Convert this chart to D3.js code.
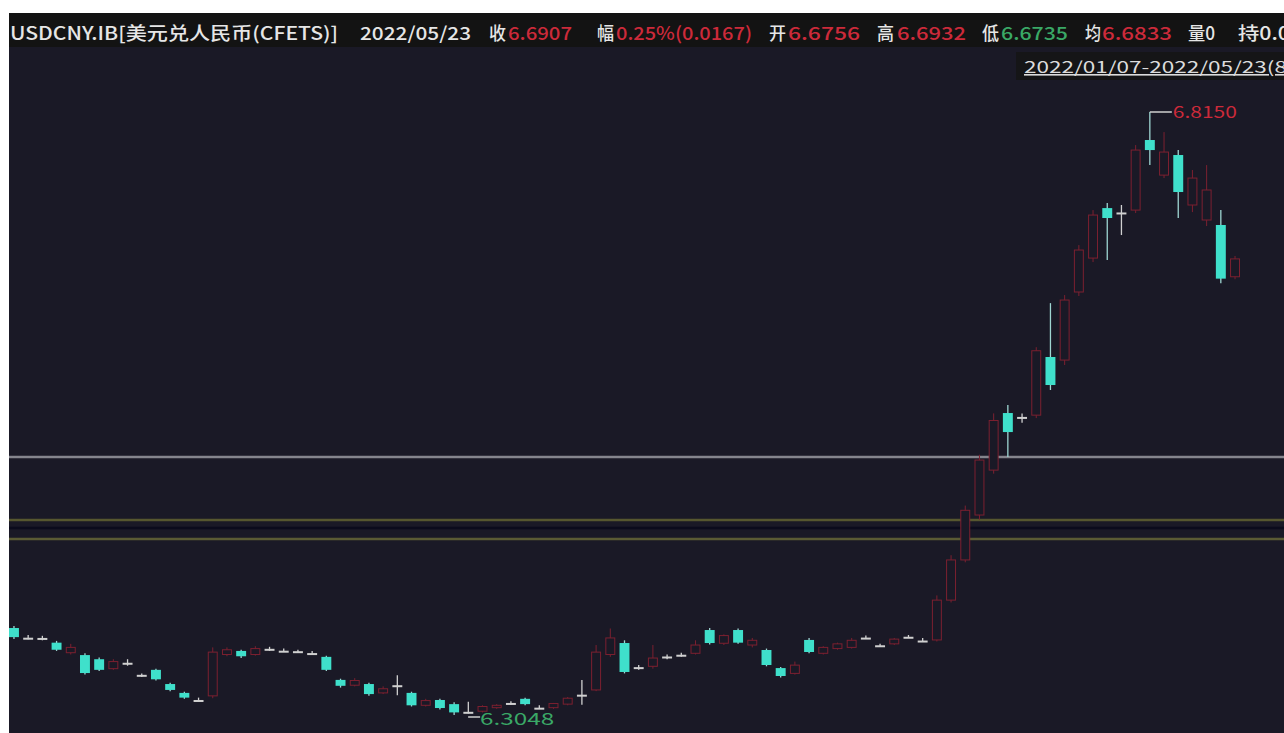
<!DOCTYPE html>
<meta charset="utf-8">
<head>
<meta charset="utf-8">
<script src="https://cdn.jsdelivr.net/npm/d3@7"></script>
<style>
  body { margin: 0; background: #ffffff; overflow: hidden; }
  svg { display: block; }
</style>
</head>
<body>
<svg width="1284" height="733"></svg>
<script>
// trading days 2022/01/07 - 2022/05/23
var dates = [
  "01/07","01/10","01/11","01/12","01/13","01/14","01/17","01/18","01/19","01/20","01/21",
  "01/24","01/25","01/26","01/27","01/28",
  "02/07","02/08","02/09","02/10","02/11","02/14","02/15","02/16","02/17","02/18",
  "02/21","02/22","02/23","02/24","02/25","02/28",
  "03/01","03/02","03/03","03/04","03/07","03/08","03/09","03/10","03/11","03/14","03/15",
  "03/16","03/17","03/18","03/21","03/22","03/23","03/24","03/25","03/28","03/29","03/30","03/31",
  "04/01","04/06","04/07","04/08","04/11","04/12","04/13","04/14","04/15","04/18","04/19",
  "04/20","04/21","04/22","04/25","04/26","04/27","04/28","04/29",
  "05/05","05/06","05/09","05/10","05/11","05/12","05/13","05/16","05/17","05/18","05/19","05/20","05/23"
];
var open = [
  6.3784,6.3702,6.3700,6.3660,6.3575,6.3555,6.3520,6.3440,6.3490,6.3388,6.3430,
  6.3310,6.3235,6.3175,6.3210,6.3560,
  6.3590,6.3560,6.3608,6.3592,6.3588,6.3572,6.3540,6.3345,6.3300,6.3310,
  6.3235,6.3300,6.3235,6.3130,6.3175,6.3140,
  6.3075,6.3080,6.3110,6.3150,6.3185,6.3110,6.3110,6.3140,6.3220,6.3260,6.3560,
  6.3657,6.3453,6.3460,6.3543,6.3558,6.3570,6.3767,6.3655,6.3767,6.3640,6.3598,6.3445,
  6.3400,6.3683,6.3570,6.3610,6.3620,6.3703,6.3638,6.3650,6.3710,6.3678,6.3683,
  6.4020,6.4360,6.4740,6.5120,6.5603,6.5570,6.5585,6.6077,
  6.6051,6.6627,6.6914,6.7337,6.7300,6.7320,6.7913,6.7616,6.7786,6.7363,6.7236,6.7194,6.6756
];
var high = [
  6.3800,6.3725,6.3718,6.3675,6.3650,6.3570,6.3535,6.3520,6.3520,6.3400,6.3440,
  6.3320,6.3245,6.3195,6.3620,6.3620,
  6.3600,6.3630,6.3625,6.3610,6.3600,6.3590,6.3550,6.3355,6.3360,6.3320,
  6.3290,6.3385,6.3245,6.3185,6.3185,6.3155,
  6.3160,6.3130,6.3140,6.3165,6.3195,6.3130,6.3150,6.3200,6.3345,6.3640,6.3780,
  6.3680,6.3470,6.3640,6.3560,6.3575,6.3680,6.3785,6.3730,6.3780,6.3700,6.3610,6.3455,
  6.3500,6.3700,6.3630,6.3660,6.3700,6.3720,6.3650,6.3700,6.3725,6.3700,6.4060,
  6.4400,6.4820,6.5250,6.5600,6.5670,6.5600,6.6160,6.6533,
  6.6601,6.7024,6.7320,6.7380,6.7363,6.7870,6.8150,6.7980,6.7828,6.7659,6.7701,6.7320,6.6932
];
var low = [
  6.3690,6.3688,6.3680,6.3590,6.3560,6.3390,6.3420,6.3430,6.3465,6.3370,6.3340,
  6.3250,6.3185,6.3160,6.3190,6.3545,
  6.3530,6.3550,6.3590,6.3580,6.3575,6.3560,6.3420,6.3280,6.3290,6.3210,
  6.3225,6.3215,6.3120,6.3120,6.3095,6.3048,
  6.3060,6.3070,6.3100,6.3135,6.3130,6.3100,6.3100,6.3130,6.3135,6.3250,6.3540,
  6.3400,6.3430,6.3440,6.3520,6.3540,6.3560,6.3645,6.3640,6.3650,6.3620,6.3460,6.3365,
  6.3390,6.3570,6.3560,6.3600,6.3610,6.3690,6.3625,6.3640,6.3700,6.3665,6.3670,
  6.4000,6.4340,6.4700,6.5090,6.5230,6.5520,6.5560,6.5798,
  6.6009,6.6593,6.6880,6.6897,6.7109,6.7295,6.7701,6.7591,6.7253,6.7303,6.7185,6.6700,6.6735
];
var close = [
  6.3707,6.3702,6.3700,6.3600,6.3620,6.3403,6.3430,6.3500,6.3490,6.3388,6.3350,
  6.3260,6.3195,6.3175,6.3580,6.3600,
  6.3545,6.3610,6.3608,6.3592,6.3588,6.3572,6.3430,6.3295,6.3340,6.3225,
  6.3270,6.3300,6.3130,6.3170,6.3107,6.3070,
  6.3075,6.3120,6.3130,6.3150,6.3140,6.3110,6.3145,6.3190,6.3220,6.3580,6.3700,
  6.3412,6.3453,6.3530,6.3543,6.3558,6.3640,6.3657,6.3720,6.3660,6.3680,6.3471,6.3378,
  6.3470,6.3581,6.3620,6.3650,6.3680,6.3703,6.3638,6.3690,6.3710,6.3678,6.4020,
  6.4360,6.4780,6.5205,6.5540,6.5442,6.5570,6.6130,6.5840,
  6.6559,6.6982,6.7278,6.7253,6.7300,6.7828,6.7828,6.7811,6.7473,6.7591,6.7490,6.6740,6.6907
];
// horizontal drawn lines
var levels = [6.5231, 6.4698, 6.4630, 6.4537];

var data = dates.map(function(d, i) {
  return {date: d, o: open[i], h: high[i], l: low[i], c: close[i]};
});

var svg = d3.select("svg");
var W = 1284, H = 733;
var padL = 9, padT = 13;

var upColor = "#7c2030", downColor = "#3fe0cb", flatColor = "#d0d0d0";
var red = "#cc2a3a", green = "#3aa866", white = "#e6e6e6";
var bg = "#1a1926";

// backgrounds
svg.append("rect").attr("x", padL).attr("y", padT).attr("width", W - padL).attr("height", H - padT).attr("fill", bg);
svg.append("rect").attr("x", padL).attr("y", padT).attr("width", W - padL).attr("height", 34).attr("fill", "#131313");
svg.append("rect").attr("x", 1016).attr("y", 52).attr("width", W - 1016).attr("height", 28).attr("fill", "#151517");

var x = d3.scaleBand().domain(dates).range([9, 1240]).paddingInner(0.3).paddingOuter(0);
var y = d3.scaleLinear().domain([d3.min(low), d3.max(high)]).range([715, 112]);

// level lines
var levelColor = ["#85858d", "#56562f", "#0b0b1c", "#5b5b34"];
svg.append("g").selectAll("line").data(levels).enter().append("line")
  .attr("x1", padL).attr("x2", W)
  .attr("y1", function(d){ return y(d); }).attr("y2", function(d){ return y(d); })
  .attr("stroke", function(d, i){ return levelColor[i]; })
  .attr("stroke-width", 2.5);

function kind(d) {
  if (d.c > d.o) return "up";
  if (d.c < d.o) return "down";
  return "flat";
}
function col(d) {
  var k = kind(d);
  return k == "up" ? upColor : (k == "down" ? downColor : flatColor);
}

var g = svg.append("g");
var candle = g.selectAll("g.c").data(data).enter().append("g").attr("class", "c");
var cx = function(d){ return x(d.date) + x.bandwidth() / 2; };

// wicks
candle.append("line")
  .attr("x1", cx).attr("x2", cx)
  .attr("y1", function(d){ return y(d.h); })
  .attr("y2", function(d){ return y(d.l); })
  .attr("stroke", function(d){ return kind(d) == "down" ? "#9ed6d2" : col(d); })
  .attr("stroke-width", function(d){ return kind(d) == "up" ? 1 : 1.3; });

// bodies
candle.append("rect")
  .attr("x", function(d){ return x(d.date) + (kind(d) == "up" ? 0.5 : 0); })
  .attr("width", function(d){ return x.bandwidth() - (kind(d) == "up" ? 1 : 0); })
  .attr("y", function(d){ return y(Math.max(d.o, d.c)); })
  .attr("height", function(d){ return Math.max(2, Math.abs(y(d.o) - y(d.c))); })
  .attr("fill", function(d){ return kind(d) == "up" ? bg : col(d); })
  .attr("stroke", function(d){ return kind(d) == "up" ? upColor : "none"; })
  .attr("stroke-width", 1);

// max / min markers
var iMax = d3.maxIndex(high), iMin = d3.minIndex(low);
var fx = "Noto Sans CJK SC, Noto Sans, sans-serif";
svg.append("line").attr("x1", cx(data[iMax])).attr("x2", cx(data[iMax]) + 22)
  .attr("y1", y(high[iMax])).attr("y2", y(high[iMax])).attr("stroke", "#cfcfcf").attr("stroke-width", 1.5);
svg.append("text").attr("x", cx(data[iMax]) + 23).attr("y", y(high[iMax]) + 6)
  .attr("fill", red).attr("font-family", fx).attr("font-size", 16)
  .attr("textLength", 64).attr("lengthAdjust", "spacingAndGlyphs")
  .text(d3.format(".4f")(high[iMax]));
svg.append("line").attr("x1", cx(data[iMin]) + 14).attr("x2", cx(data[iMin]) + 26)
  .attr("y1", y(low[iMin]) + 2).attr("y2", y(low[iMin]) + 2).attr("stroke", "#cfcfcf").attr("stroke-width", 1.5);
svg.append("text").attr("x", cx(data[iMin]) + 26).attr("y", y(low[iMin]) + 10)
  .attr("fill", green).attr("font-family", fx).attr("font-size", 17)
  .attr("textLength", 74).attr("lengthAdjust", "spacingAndGlyphs")
  .text(d3.format(".4f")(low[iMin]));

// header
var last = data[data.length - 1], prev = data[data.length - 2];
var chg = last.c - prev.c;
var header = [
  {t: "USDCNY.IB[美元兑人民币(CFETS)]", x: 10, w: 328, c: white},
  {t: "2022/05/23", x: 360, w: 111, c: white},
  {t: "收", x: 489, w: 17, c: white},
  {t: d3.format(".4f")(last.c), x: 508, w: 64, c: red},
  {t: "幅", x: 597, w: 17, c: white},
  {t: d3.format(".2f")(chg / prev.c * 100) + "%(" + d3.format(".4f")(chg) + ")", x: 616, w: 136, c: red},
  {t: "开", x: 769, w: 17, c: white},
  {t: d3.format(".4f")(last.o), x: 788, w: 72, c: red},
  {t: "高", x: 877, w: 17, c: white},
  {t: d3.format(".4f")(last.h), x: 897, w: 69, c: red},
  {t: "低", x: 982, w: 17, c: white},
  {t: d3.format(".4f")(last.l), x: 1001, w: 67, c: green},
  {t: "均", x: 1085, w: 16, c: white},
  {t: "6.6833", x: 1102, w: 70, c: red},
  {t: "量0", x: 1188, w: 27, c: white},
  {t: "持0.0", x: 1238, w: 52, c: white}
];
svg.append("g").selectAll("text").data(header).enter().append("text")
  .attr("x", function(d){ return d.x; })
  .attr("y", 40)
  .attr("fill", function(d){ return d.c; })
  .attr("font-family", fx)
  .attr("font-size", 18)
  .attr("font-weight", 500)
  .attr("textLength", function(d){ return d.w; })
  .attr("lengthAdjust", "spacingAndGlyphs")
  .text(function(d){ return d.t; });

svg.append("text").attr("x", 1024).attr("y", 73)
  .attr("fill", "#dcdcdc").attr("font-family", fx).attr("font-size", 16)
  .attr("text-decoration", "underline")
  .attr("textLength", 283).attr("lengthAdjust", "spacingAndGlyphs")
  .text("2022/" + dates[0] + "-2022/" + dates[dates.length - 1] + "(" + dates.length + ")");
</script>
</body>
